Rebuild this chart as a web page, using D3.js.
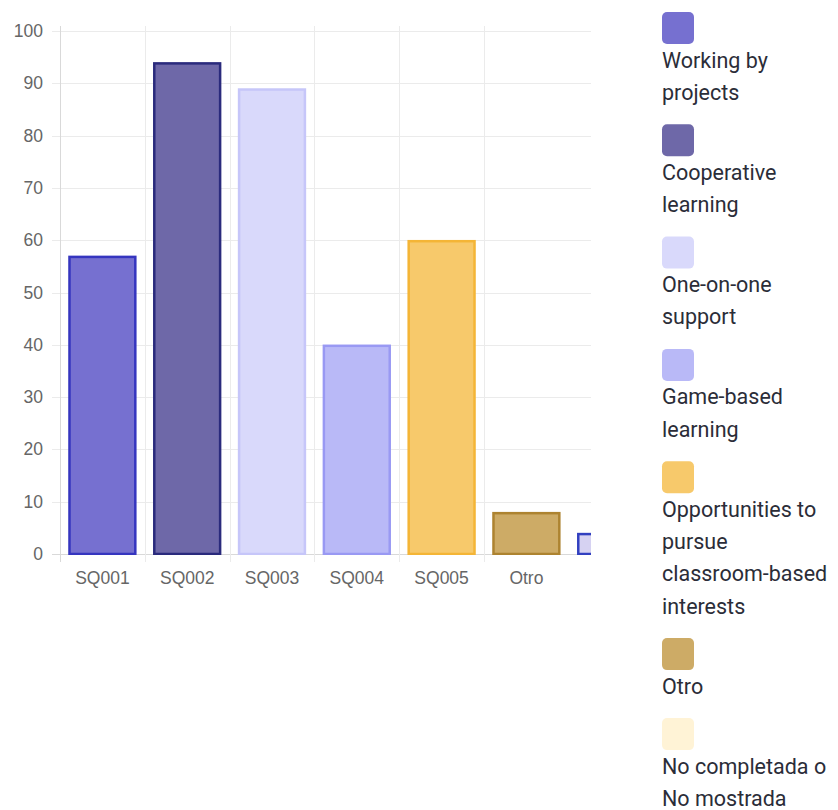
<!DOCTYPE html>
<html>
<head>
<meta charset="utf-8">
<script src="https://cdn.jsdelivr.net/npm/d3@7/dist/d3.min.js"></script>
<style>
  html, body { margin: 0; padding: 0; background: #fff; }
  svg { display: block; }
</style>
</head>
<body>
<svg id="chart" width="838" height="810"></svg>
<script>
// ---- data ----
const categories = ["SQ001", "SQ002", "SQ003", "SQ004", "SQ005", "Otro", "No completada o No mostrada"];
const values = [57, 94, 89, 40, 60, 8, 4];
const tickLabels = ["SQ001", "SQ002", "SQ003", "SQ004", "SQ005", "Otro"];
const yTicks = [0, 10, 20, 30, 40, 50, 60, 70, 80, 90, 100];
const legendLabels = [
  ["Working by", "projects"],
  ["Cooperative", "learning"],
  ["One-on-one", "support"],
  ["Game-based", "learning"],
  ["Opportunities to", "pursue", "classroom-based", "interests"],
  ["Otro"],
  ["No completada o", "No mostrada"]
];
const fillColors = ["#7670d0", "#6e68a8", "#d9d9fb", "#b9b9f7", "#f7c96b", "#cdab66", "#d6d2f2"];
const strokeColors = ["#3535bf", "#2a2a7c", "#c6c6f9", "#9999f3", "#f4b536", "#ad8330", "#3240c0"];
const legendColors = ["#7670d0", "#6e68a8", "#d9d9fb", "#b9b9f7", "#f7c96b", "#cdab66", "#fff3d6"];

// ---- layout ----
const svg = d3.select("#chart");
const mLeft = 60, mTop = 31, mBottom = 554, clipRight = 591;
const band = 84.8;

const x = d3.scaleBand()
  .domain(categories)
  .range([mLeft, mLeft + band * categories.length])
  .paddingInner(0).paddingOuter(0);
const y = d3.scaleLinear().domain([0, 100]).range([mBottom, mTop]);

const grid = svg.append("g");
// horizontal gridlines
grid.selectAll("line.h").data(yTicks).join("line")
  .attr("x1", mLeft - 8).attr("x2", clipRight)
  .attr("y1", d => Math.round(y(d)) + 0.5).attr("y2", d => Math.round(y(d)) + 0.5)
  .attr("stroke", d => d === 0 ? "#d9d9d9" : "#ebebeb").attr("stroke-width", 1);
// vertical gridlines at band starts for labelled categories
grid.selectAll("line.v").data(tickLabels).join("line")
  .attr("x1", (d, i) => Math.round(x(categories[i])) + 0.5)
  .attr("x2", (d, i) => Math.round(x(categories[i])) + 0.5)
  .attr("y1", mTop - 5).attr("y2", mBottom + 8)
  .attr("stroke", (d, i) => i === 0 ? "#d9d9d9" : "#ebebeb").attr("stroke-width", 1);

// y tick labels
svg.append("g").selectAll("text").data(yTicks).join("text")
  .attr("x", 43).attr("y", d => y(d))
  .attr("text-anchor", "end").attr("dominant-baseline", "central")
  .attr("font-family", "Liberation Sans, Arial, sans-serif")
  .attr("font-size", 17.5).attr("fill", "#666")
  .text(d => d);

// x tick labels
svg.append("g").selectAll("text").data(tickLabels).join("text")
  .attr("x", (d, i) => x(categories[i]) + x.bandwidth() / 2)
  .attr("y", 578)
  .attr("text-anchor", "middle").attr("dominant-baseline", "central")
  .attr("font-family", "Liberation Sans, Arial, sans-serif")
  .attr("font-size", 17.5).attr("fill", "#666")
  .text(d => d);

// clip
svg.append("defs").append("clipPath").attr("id", "plotclip")
  .append("rect").attr("x", mLeft).attr("y", 0).attr("width", clipRight - mLeft).attr("height", mBottom + 1);

const barW = x.bandwidth() * 0.8;
svg.append("g").attr("clip-path", "url(#plotclip)")
  .selectAll("rect").data(values).join("rect")
  .attr("x", (d, i) => x(categories[i]) + (x.bandwidth() - barW) / 2 + 1)
  .attr("y", d => y(d) + 1)
  .attr("width", barW - 2)
  .attr("height", d => mBottom - y(d) - 1)
  .attr("fill", (d, i) => fillColors[i])
  .attr("stroke", (d, i) => strokeColors[i])
  .attr("stroke-width", 2.5);

// legend
const lg = svg.append("g");
const lx = 662, sq = 32, lineH = 32.3;
let cy = 12;
legendLabels.forEach((lines, i) => {
  lg.append("rect").attr("x", lx).attr("y", cy).attr("width", sq).attr("height", sq)
    .attr("rx", 5).attr("fill", legendColors[i]);
  lines.forEach((t, j) => {
    lg.append("text").attr("x", lx).attr("y", cy + 48 + j * lineH)
      .attr("dominant-baseline", "central")
      .attr("font-family", "Roboto, sans-serif").attr("font-size", 21.5)
      .attr("fill", "#2b2d38")
      .text(t);
  });
  cy += 48 + (lines.length - 1) * lineH + 32;
});
</script>
</body>
</html>
